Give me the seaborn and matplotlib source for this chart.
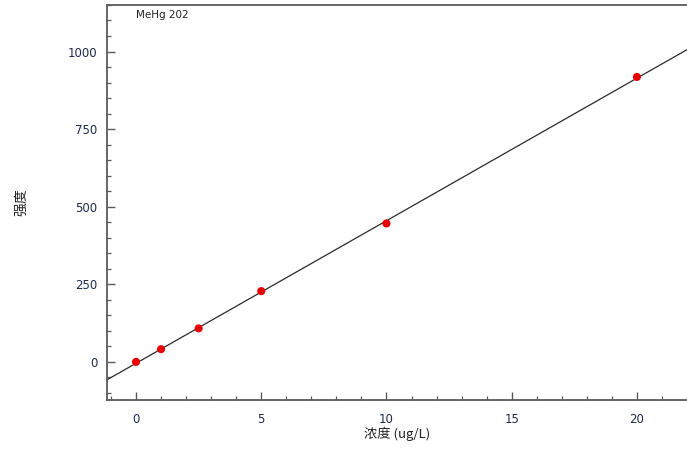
import numpy as np
import pandas as pd
import matplotlib
matplotlib.use("Agg")
import matplotlib.pyplot as plt
import seaborn as sns
from matplotlib.ticker import MultipleLocator

# ==========================================================
# DATA
# ==========================================================

conc = [0, 1, 2.5, 5, 10, 20]          # ug/L
intensity = [0, 41, 108, 228, 446, 918]

x_ticks = [0, 5, 10, 15, 20]
y_ticks = [0, 250, 500, 750, 1000]

curve_name = "MeHg 202"
x_label = "浓度 (ug/L)"
y_label = "强度"

df = pd.DataFrame({"conc": conc, "intensity": intensity})

# ==========================================================
# STYLE
# ==========================================================

sns.set_style("ticks")
plt.rcParams["font.family"] = ["DejaVu Sans", "Noto Sans CJK SC"]

tick_color = "#1e2a4a"
spine_color = "#5a5a5a"

fig = plt.figure(figsize=(6.87, 4.5), dpi=100)
ax = fig.add_axes([0.1557, 0.111, 0.8443, 0.878])

ax.set_xlim(-1.16, 22.0)
ax.set_ylim(-123, 1150)

# fitted calibration line, extended across the axis
sns.regplot(data=df, x="conc", y="intensity", ax=ax, ci=None, truncate=False,
            scatter=False, line_kws={"color": "#2a2a2a", "linewidth": 0.9})

sns.scatterplot(data=df, x="conc", y="intensity", ax=ax, color="#e80000",
                s=34, edgecolor="none", zorder=5)

ax.set_xlim(-1.16, 22.0)
ax.set_ylim(-123, 1150)

ax.set_xticks(x_ticks)
ax.set_yticks(y_ticks)
ax.xaxis.set_minor_locator(MultipleLocator(1))
ax.yaxis.set_minor_locator(MultipleLocator(50))

ax.tick_params(axis="both", which="major", direction="in", length=6,
               width=1.0, color=spine_color, labelsize=8.5, labelcolor=tick_color)
ax.tick_params(axis="both", which="minor", direction="in", length=3,
               width=0.9, color=spine_color)
ax.tick_params(axis="x", which="major", pad=9)
ax.tick_params(axis="y", which="major", pad=7)

for side in ["left", "top", "bottom"]:
    ax.spines[side].set_color(spine_color)
    ax.spines[side].set_linewidth(1.3)
ax.spines["right"].set_visible(False)

ax.set_xlabel(x_label, fontsize=9.5, family=["Noto Sans CJK SC", "DejaVu Sans"],
              color="#222222", labelpad=1)
ax.set_ylabel(y_label, fontsize=10, family=["Noto Sans CJK SC", "DejaVu Sans"],
              color="#222222")
ax.yaxis.set_label_coords(-0.135, 0.5)

ax.text(0.05, 0.988, curve_name, transform=ax.transAxes, fontsize=7.5,
        va="top", ha="left", color="#222222")

fig.savefig("out.png", dpi=100)
